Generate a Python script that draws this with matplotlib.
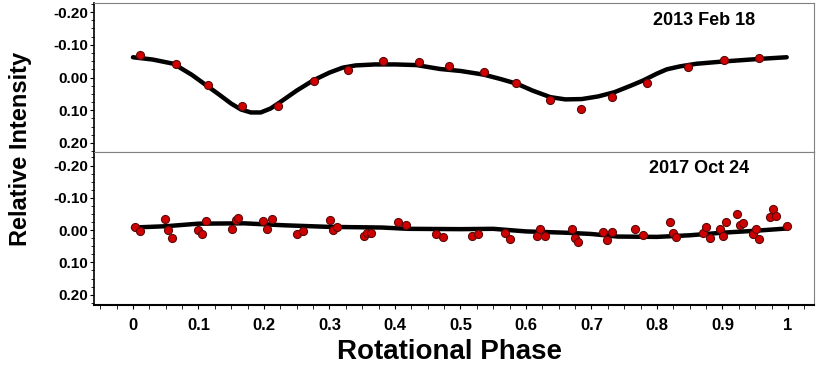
import numpy as np
import matplotlib
matplotlib.use("Agg")
import matplotlib.pyplot as plt
from matplotlib.ticker import MultipleLocator, FormatStrFormatter, FuncFormatter

# --- 2013 Feb 18: observed points and fitted curve ---
phase_2013 = [0.011, 0.065, 0.115, 0.166, 0.222, 0.276, 0.329, 0.382, 0.436, 0.483,
              0.536, 0.585, 0.637, 0.684, 0.732, 0.784, 0.848, 0.903, 0.956]
inten_2013 = [-0.069, -0.040, 0.024, 0.088, 0.088, 0.011, -0.024, -0.052, -0.046, -0.035,
              -0.016, 0.016, 0.068, 0.095, 0.060, 0.016, -0.033, -0.055, -0.060]

fit_phase_2013 = [0.0, 0.03, 0.062, 0.09, 0.112, 0.13, 0.15, 0.165, 0.18, 0.195, 0.21,
                  0.225, 0.25, 0.275, 0.30, 0.32, 0.34, 0.37, 0.40, 0.433, 0.469, 0.50,
                  0.535, 0.56, 0.586, 0.61, 0.637, 0.66, 0.685, 0.71, 0.735, 0.76, 0.779,
                  0.80, 0.815, 0.835, 0.86, 0.901, 0.957, 0.998]
fit_inten_2013 = [-0.062, -0.055, -0.042, -0.008, 0.024, 0.050, 0.080, 0.098, 0.107, 0.107,
                  0.095, 0.075, 0.040, 0.009, -0.015, -0.030, -0.037, -0.040, -0.040, -0.038,
                  -0.026, -0.020, -0.009, 0.004, 0.019, 0.040, 0.060, 0.067, 0.066, 0.058,
                  0.045, 0.025, 0.009, -0.012, -0.025, -0.034, -0.042, -0.049, -0.057, -0.062]

# --- 2017 Oct 24: observed points and fitted curve ---
phase_2017 = [0.003, 0.010, 0.049, 0.054, 0.059, 0.100, 0.105, 0.111, 0.151, 0.157, 0.161,
              0.199, 0.204, 0.212, 0.250, 0.259, 0.301, 0.306, 0.311, 0.353, 0.358, 0.364,
              0.405, 0.417, 0.463, 0.473, 0.517, 0.527, 0.568, 0.576, 0.617, 0.622, 0.629,
              0.670, 0.675, 0.680, 0.718, 0.723, 0.731, 0.766, 0.779, 0.820, 0.825, 0.829,
              0.870, 0.875, 0.881, 0.896, 0.901, 0.906, 0.922, 0.926, 0.932, 0.946, 0.951,
              0.956, 0.972, 0.977, 0.982, 0.998]
inten_2017 = [-0.010, 0.002, -0.034, 0.000, 0.024, 0.000, 0.013, -0.028, -0.005, -0.031, -0.038,
              -0.028, -0.002, -0.034, 0.011, 0.003, -0.031, 0.000, -0.010, 0.017, 0.010, 0.010,
              -0.024, -0.017, 0.013, 0.021, 0.017, 0.013, 0.010, 0.026, 0.017, -0.005, 0.017,
              -0.002, 0.024, 0.036, 0.005, 0.031, 0.005, -0.005, 0.015, -0.026, 0.010, 0.021,
              0.010, -0.010, 0.024, -0.002, 0.017, -0.024, -0.051, -0.015, -0.021, 0.013, -0.003,
              0.026, -0.041, -0.065, -0.043, -0.013]

fit_phase_2017 = [0.0, 0.05, 0.10, 0.17, 0.23, 0.30, 0.38, 0.42, 0.50, 0.55, 0.60, 0.66,
                  0.70, 0.74, 0.80, 0.85, 0.90, 0.95, 0.998]
fit_inten_2017 = [-0.008, -0.012, -0.020, -0.021, -0.015, -0.010, -0.008, -0.004, -0.003,
                  -0.004, 0.004, 0.008, 0.012, 0.020, 0.021, 0.016, 0.008, 0.002, -0.005]

panels = [
    ("2013 Feb 18", phase_2013, inten_2013, fit_phase_2013, fit_inten_2013),
    ("2017 Oct 24", phase_2017, inten_2017, fit_phase_2017, fit_inten_2017),
]

plt.rcParams["font.family"] = ["Liberation Sans", "DejaVu Sans"]
plt.rcParams["font.weight"] = "bold"

fig = plt.figure(figsize=(8.17, 3.72), dpi=100)
left, right = 94 / 817, 814 / 817
rows = [(3, 152), (152, 305)]  # pixel top/bottom of each panel
axes = []
for top, bot in rows:
    ax = fig.add_axes([left, 1 - bot / 372, right - left, (bot - top) / 372])
    axes.append(ax)

narrow = ["Liberation Sans Narrow", "Liberation Sans", "DejaVu Sans"]
grey = "#808080"

for i, (ax, (label, px, py, fx, fy)) in enumerate(zip(axes, panels)):
    ax.plot(fx, fy, color="black", lw=3.2, solid_capstyle="round",
            solid_joinstyle="round", zorder=2)
    ax.plot(px, py, "o", ms=5.8, mfc="#d10000", mec="#5a0a0a", mew=0.8, zorder=3)
    ax.set_xlim(-0.0595, 1.0397)
    ax.set_ylim(0.228 if i == 0 else 0.232, -0.228 if i == 0 else -0.242)
    ax.yaxis.set_major_locator(MultipleLocator(0.1))
    ax.yaxis.set_minor_locator(MultipleLocator(0.025))
    ax.yaxis.set_major_formatter(FormatStrFormatter("%.2f"))
    ax.tick_params(axis="y", which="major", direction="out", length=3, width=0.8,
                   labelsize=11, pad=1)
    ax.tick_params(axis="y", which="minor", direction="out", length=2, width=0.6)
    for t in ax.get_yticklabels():
        t.set_fontweight("bold")
    ax.spines["left"].set_color("black")
    ax.spines["right"].set_color(grey)
    ax.spines["top"].set_color(grey)
    ax.spines["left"].set_linewidth(1.2)
    ax.text(0.847 if i == 0 else 0.841, 0.88 if i == 0 else 0.89, label,
            transform=ax.transAxes, ha="center", va="center",
            fontsize=13, fontweight="bold")

top_ax, bot_ax = axes
top_ax.spines["bottom"].set_color(grey)
top_ax.tick_params(axis="x", which="both", bottom=False, labelbottom=False)
bot_ax.spines["top"].set_color(grey)
bot_ax.spines["bottom"].set_color("black")
bot_ax.spines["bottom"].set_linewidth(1.5)
bot_ax.xaxis.set_major_locator(MultipleLocator(0.1))
bot_ax.xaxis.set_minor_locator(MultipleLocator(0.025))
bot_ax.xaxis.set_major_formatter(FuncFormatter(lambda v, p: f"{v:.1f}".rstrip("0").rstrip(".") if abs(v) > 1e-9 else "0"))
bot_ax.tick_params(axis="x", which="major", direction="out", length=3, width=0.8,
                   labelsize=12, pad=6)
bot_ax.tick_params(axis="x", which="minor", direction="out", length=3, width=0.6)
for t in bot_ax.get_xticklabels():
    t.set_fontweight("bold")
    t.set_family(narrow)

fig.text(0.5 * (left + right) - 0.005, 0.055, "Rotational Phase", ha="center", va="center",
         fontsize=20, fontweight="bold", family=narrow)
fig.text(0.025, 0.6, "Relative Intensity", ha="center", va="center", rotation=90,
         fontsize=17, fontweight="bold")

fig.savefig("out.png", dpi=100)
